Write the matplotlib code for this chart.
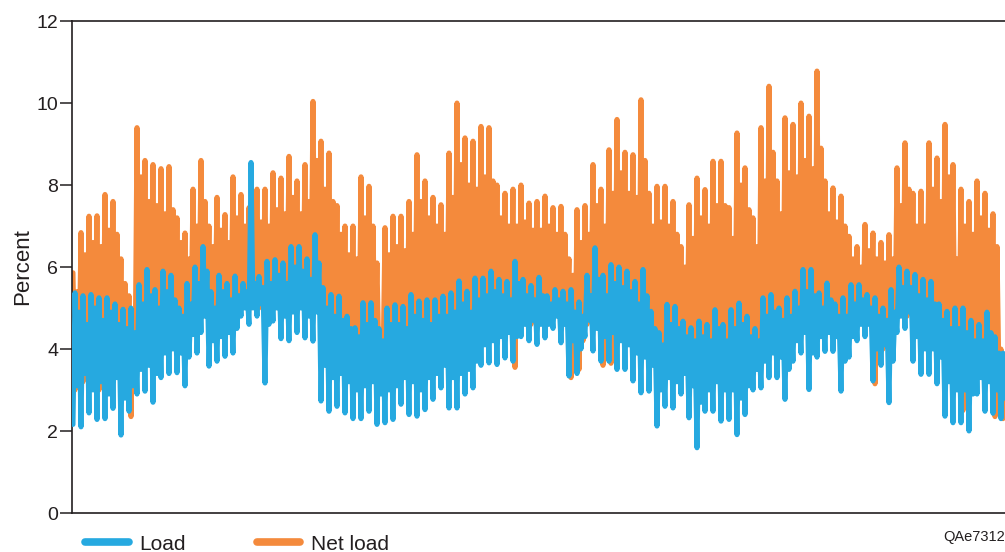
import numpy as np
import matplotlib.pyplot as plt

plt.rcParams['font.family'] = ['Liberation Sans', 'DejaVu Sans']

# load: groups of four readings (low, high, low, high), percent
load = [
    2.16, 5.37, 3.1, 4.9,  2.10, 5.30, 3.4, 4.6,  2.44, 5.33, 3.0, 5.0,  2.28, 5.25, 3.2, 4.7,  2.30, 5.25, 2.9, 4.9,
    2.55, 5.10, 3.3, 4.6,  1.90, 4.97, 2.8, 4.5,  2.48, 5.00, 3.1, 4.4,  2.90, 5.57, 3.5, 5.1,  2.97, 5.94, 3.6, 5.3,
    2.70, 5.45, 3.4, 5.0,  3.30, 5.90, 3.9, 5.4,  3.40, 5.80, 4.0, 5.2,  3.42, 5.00, 3.9, 4.8,  3.10, 5.60, 3.8, 5.1,
    4.35, 6.00, 3.9, 5.6,  4.40, 6.50, 4.8, 5.9,  3.58, 5.40, 4.2, 5.0,  3.70, 5.80, 4.3, 5.4,  3.82, 5.60, 4.4, 5.2,
    3.90, 5.78, 4.5, 5.3,  4.80, 5.60, 5.0, 5.4,  4.60, 8.55, 5.0, 5.6,  4.80, 5.77, 5.1, 5.5,  3.17, 6.14, 4.6, 5.6,
    4.68, 6.18, 5.0, 5.8,  4.25, 6.10, 4.8, 5.6,  4.20, 6.50, 4.9, 6.0,  4.40, 6.50, 5.0, 5.9,  4.27, 6.20, 4.8, 5.7,
    4.19, 6.79, 4.9, 6.1,  2.73, 5.50, 3.6, 5.0,  2.48, 5.33, 3.3, 4.8,  2.60, 5.29, 3.4, 4.7,  2.44, 4.80, 3.2, 4.5,
    2.30, 4.52, 3.0, 4.3,  2.30, 5.13, 3.1, 4.6,  2.48, 5.13, 3.2, 4.7,  2.16, 4.50, 2.9, 4.2,  2.20, 5.00, 3.0, 4.6,
    2.28, 5.08, 3.1, 4.6,  2.65, 5.04, 3.3, 4.5,  2.40, 5.33, 3.2, 4.8,  2.36, 5.17, 3.0, 4.7,  2.52, 5.20, 3.3, 4.6,
    2.77, 5.20, 3.4, 4.8,  3.05, 5.29, 3.6, 4.8,  2.56, 5.37, 3.3, 4.9,  2.56, 5.66, 3.4, 5.1,  2.90, 5.41, 3.5, 4.9,
    3.05, 5.73, 3.7, 5.2,  3.60, 5.73, 4.1, 5.3,  3.66, 5.90, 4.2, 5.4,  3.62, 5.70, 4.3, 5.3,  3.78, 5.65, 4.4, 5.2,
    3.70, 6.14, 4.3, 5.6,  4.30, 5.70, 4.6, 5.3,  4.20, 5.55, 4.7, 5.2,  4.11, 5.75, 4.6, 5.3,  4.27, 5.30, 4.6, 5.1,
    4.50, 5.45, 4.8, 5.2,  4.15, 5.41, 4.6, 5.1,  3.34, 5.45, 4.2, 4.9,  3.40, 5.15, 4.0, 4.8,  4.30, 5.80, 4.7, 5.3,
    3.95, 6.47, 4.5, 5.7,  3.70, 5.80, 4.3, 5.3,  3.70, 6.06, 4.4, 5.6,  3.50, 6.00, 4.2, 5.5,  3.50, 5.90, 4.1, 5.4,
    3.22, 5.65, 3.9, 5.1,  2.93, 5.94, 3.8, 5.3,  2.97, 4.92, 3.6, 4.5,  2.12, 4.40, 3.0, 4.1,  2.60, 5.09, 3.3, 4.6,
    2.56, 5.04, 3.2, 4.5,  2.90, 4.68, 3.4, 4.3,  2.32, 4.52, 3.1, 4.2,  1.59, 4.68, 2.7, 4.3,  2.48, 4.60, 3.0, 4.2,
    2.48, 4.96, 3.2, 4.5,  2.24, 4.60, 3.0, 4.2,  2.28, 4.96, 3.0, 4.5,  1.91, 5.12, 2.8, 4.6,  2.40, 4.80, 3.1, 4.3,
    3.00, 4.50, 3.5, 4.2,  3.05, 5.25, 3.7, 4.8,  3.30, 5.33, 3.9, 4.9,  3.30, 5.00, 3.8, 4.7,  2.77, 5.25, 3.5, 4.8,
    3.70, 5.41, 4.2, 5.0,  3.90, 5.94, 4.4, 5.4,  3.01, 5.94, 3.9, 5.3,  3.80, 5.37, 4.3, 5.0,  3.94, 5.61, 4.4, 5.2,
    3.94, 5.10, 4.3, 4.8,  2.97, 5.25, 3.7, 4.8,  3.80, 5.57, 4.3, 5.1,  4.20, 5.57, 4.6, 5.2,  4.30, 5.33, 4.6, 5.0,
    3.22, 5.25, 4.0, 4.8,  3.60, 5.00, 4.1, 4.7,  2.69, 5.45, 3.7, 4.9,  4.40, 6.00, 4.8, 5.5,  4.50, 5.90, 4.9, 5.5,
    3.70, 5.82, 4.3, 5.3,  3.38, 5.70, 4.0, 5.2,  3.38, 5.65, 4.0, 5.1,  3.15, 5.10, 3.8, 4.7,  2.36, 4.92, 3.2, 4.5,
    2.20, 5.00, 3.0, 4.5,  2.20, 5.00, 3.0, 4.4,  2.00, 4.70, 2.9, 4.2,  2.90, 4.60, 3.3, 4.2,  2.48, 4.90, 3.2, 4.4,
    2.43, 4.30, 3.0, 3.9,  2.30, 3.90, 2.8, 3.5,
]

# net load: groups of four readings (high, low, high, low), percent
net_load = [
    5.86, 3.0, 5.4, 3.6,  6.84, 3.2, 6.3, 3.8,  7.24, 3.5, 6.6, 4.0,  7.25, 3.0, 6.5, 3.8,  7.77, 3.3, 6.9, 4.0,
    7.60, 3.4, 6.8, 3.9,  6.20, 3.0, 5.6, 3.6,  5.30, 2.35, 4.9, 3.4,  9.40, 3.6, 8.2, 4.2,  8.60, 3.8, 7.6, 4.3,
    8.50, 3.5, 7.5, 4.2,  8.40, 4.0, 7.3, 4.6,  8.45, 4.0, 7.4, 4.5,  7.20, 4.0, 6.6, 4.4,  6.83, 4.2, 6.2, 4.6,
    7.90, 4.5, 7.0, 4.9,  8.60, 4.8, 7.6, 5.2,  7.00, 4.3, 6.5, 4.7,  7.70, 4.4, 6.9, 4.8,  7.28, 4.5, 6.6, 4.9,
    8.20, 4.6, 7.2, 5.0,  7.77, 5.0, 7.0, 5.2,  7.45, 5.0, 6.8, 5.3,  7.90, 5.0, 7.1, 5.3,  7.90, 4.6, 7.0, 5.0,
    8.30, 5.0, 7.4, 5.4,  8.17, 4.8, 7.3, 5.2,  8.70, 4.9, 7.7, 5.3,  8.10, 5.0, 7.3, 5.4,  8.50, 4.9, 7.6, 5.3,
    10.04, 5.0, 8.6, 5.4,  9.07, 4.3, 7.9, 4.8,  8.78, 4.0, 7.6, 4.5,  7.50, 3.8, 6.8, 4.3,  7.00, 3.6, 6.3, 4.1,
    7.00, 3.4, 6.2, 3.9,  8.20, 3.6, 7.2, 4.1,  7.97, 3.7, 7.0, 4.1,  6.10, 3.6, 3.7, 3.6,  6.96, 3.5, 6.3, 4.0,
    7.24, 3.6, 6.5, 4.0,  7.24, 3.6, 6.4, 4.1,  7.60, 3.8, 6.8, 4.2,  8.74, 3.8, 7.6, 4.2,  8.10, 3.9, 7.2, 4.3,
    7.70, 3.9, 7.0, 4.3,  7.52, 4.0, 6.8, 4.4,  8.78, 4.0, 7.7, 4.4,  10.00, 4.2, 8.5, 4.6,  9.15, 4.2, 8.0, 4.6,
    9.07, 4.3, 7.9, 4.7,  9.43, 4.5, 8.2, 4.8,  9.40, 4.6, 8.1, 4.9,  8.00, 4.5, 7.2, 4.8,  7.80, 4.5, 7.0, 4.8,
    7.90, 3.55, 7.0, 4.5,  8.00, 4.6, 7.1, 4.9,  7.56, 4.6, 6.9, 4.9,  7.60, 4.6, 6.9, 4.9,  7.73, 4.6, 7.0, 4.9,
    7.45, 4.8, 6.8, 5.0,  7.48, 4.6, 6.8, 4.9,  6.20, 3.3, 5.8, 3.8,  7.40, 3.5, 6.6, 4.2,  7.50, 4.6, 6.8, 4.9,
    8.50, 4.6, 7.5, 5.0,  7.90, 3.6, 7.0, 4.4,  8.86, 3.65, 7.8, 4.5,  9.60, 4.2, 8.3, 4.7,  8.80, 4.2, 7.8, 4.6,
    8.74, 4.0, 7.7, 4.5,  10.08, 4.0, 8.6, 4.5,  7.80, 3.8, 7.0, 4.2,  7.97, 3.4, 7.1, 3.9,  7.97, 3.6, 7.0, 4.0,
    7.60, 3.6, 6.8, 4.0,  6.50, 3.6, 6.0, 3.9,  7.52, 3.4, 6.7, 3.8,  8.17, 3.4, 7.2, 3.8,  7.89, 3.4, 7.0, 3.8,
    8.58, 3.6, 7.5, 4.0,  8.58, 3.4, 7.5, 3.8,  7.45, 3.5, 6.7, 3.9,  9.27, 3.5, 8.0, 3.9,  8.42, 3.5, 7.4, 3.9,
    7.20, 3.6, 6.5, 3.9,  9.40, 3.9, 8.1, 4.3,  10.41, 4.0, 8.8, 4.4,  8.10, 4.0, 7.3, 4.3,  9.64, 3.9, 8.3, 4.3,
    9.48, 4.3, 8.2, 4.7,  10.00, 4.6, 8.6, 4.9,  9.68, 4.3, 8.4, 4.7,  10.78, 4.4, 8.9, 4.8,  8.10, 4.5, 7.3, 4.8,
    7.93, 4.3, 7.1, 4.6,  7.73, 4.0, 7.0, 4.4,  6.75, 4.4, 6.2, 4.7,  6.50, 4.6, 6.0, 4.8,  7.04, 4.6, 6.4, 4.8,
    6.83, 3.15, 6.2, 4.0,  6.60, 4.0, 6.1, 4.4,  6.79, 4.0, 6.2, 4.4,  8.42, 4.8, 7.5, 5.1,  9.03, 4.8, 7.9, 5.1,
    7.80, 4.3, 7.0, 4.7,  7.85, 4.2, 7.0, 4.6,  9.03, 4.2, 7.9, 4.6,  8.66, 4.0, 7.6, 4.4,  9.48, 3.6, 8.2, 4.1,
    8.50, 3.5, 6.2, 3.9,  7.90, 2.5, 7.0, 3.6,  7.60, 3.2, 6.8, 3.7,  8.10, 3.4, 7.2, 3.8,  7.80, 3.4, 6.9, 3.8,
    7.30, 2.35, 6.5, 3.3,  4.00, 2.30, 3.6, 2.6,
]

y_ticks = [0, 2, 4, 6, 8, 10, 12]

blue = '#26a9e0'
orange = '#f48a3c'
ink = '#231f20'

x = np.arange(len(load))

fig = plt.figure(figsize=(10.05, 5.52), dpi=100)
ax = fig.add_axes([72 / 1005, 39 / 552, 936 / 1005, 492 / 552])

ax.plot(x, net_load, color=orange, lw=3.6, solid_joinstyle='round',
        solid_capstyle='round', label='Net load', zorder=2)
ax.plot(x, load, color=blue, lw=3.6, solid_joinstyle='round',
        solid_capstyle='round', label='Load', zorder=3)

ax.set_xlim(-0.5, len(load) - 0.5)
ax.set_ylim(0, 12)
ax.set_xticks([])
ax.set_yticks(y_ticks)
ax.tick_params(axis='y', direction='out', length=9, width=1.1,
               labelsize=14, colors=ink, pad=1)

for side in ['left', 'bottom', 'top', 'right']:
    ax.spines[side].set_color(ink)
    ax.spines[side].set_linewidth(1.2)

ax.set_ylabel('Percent', fontsize=16, color=ink)
ax.yaxis.set_label_coords(-0.041, 0.5)

# legend along the bottom edge: Load first, then Net load
handles, labels = ax.get_legend_handles_labels()
leg = fig.legend(handles[::-1], labels[::-1], loc='center left',
                 bbox_to_anchor=(85 / 1005, 8 / 552), ncol=2, frameon=False,
                 fontsize=15, handlelength=2.1, handletextpad=0.5,
                 columnspacing=3.4, borderpad=0, borderaxespad=0)
for line in leg.get_lines():
    line.set_linewidth(5.5)
    line.set_solid_capstyle('round')
for t in leg.get_texts():
    t.set_color(ink)

fig.text(1.0, 15 / 552, 'QAe7312', ha='right', va='center', fontsize=10.5, color=ink)

fig.savefig('out.png', dpi=100)
